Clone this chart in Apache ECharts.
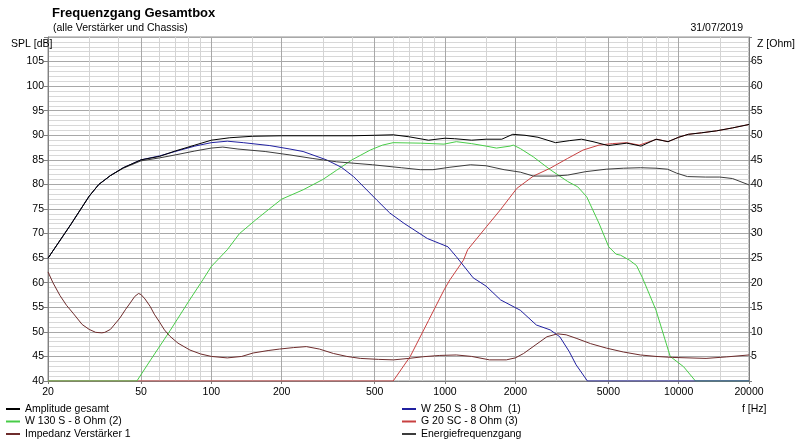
<!DOCTYPE html>
<html><head><meta charset="utf-8">
<script src="https://cdn.jsdelivr.net/npm/echarts@6/dist/echarts.min.js"></script>
<style>html,body{margin:0;padding:0;background:#fff}#c{width:800px;height:445px}</style>
</head><body><div id="c"></div>
<script>
const majorFreqs = [20,50,100,200,500,1000,2000,5000,10000,20000];
const minorFreqs = [30,40,60,70,80,90,150,300,400,600,700,800,900,1500,3000,4000,6000,7000,8000,9000,15000];

const ampF = [20,25,30,33,37,42,50,60,70,85,100,120,150,200,300,400,500,600,700,850,1000,1100,1300,1500,1750,1950,2200,2500,2970,3400,3840,4300,5000,6000,6900,8000,9000,10000,11000,12500,14500,17000,20000];
const ampV = [65.0,71.8,77.6,80.0,81.8,83.4,85.0,85.7,86.8,88.0,89.0,89.5,89.8,89.9,89.9,89.9,90.0,90.1,89.7,89.0,89.4,89.3,89.0,89.2,89.2,90.2,90.0,89.6,88.5,88.9,89.2,88.7,87.9,88.4,87.8,89.2,88.7,89.6,90.2,90.5,90.9,91.5,92.2];

const energyF = [20,25,30,33,37,42,50,60,70,85,100,112,130,170,217,270,344,490,650,784,888,1050,1286,1500,1790,2100,2390,2930,3350,4000,4900,5800,6860,8000,8960,9800,10900,13000,15000,17000,20000];
const energyV = [65.0,71.8,77.6,80.0,81.8,83.3,84.8,85.4,86.0,86.8,87.4,87.6,87.2,86.7,86.0,85.3,84.6,84.0,83.4,83.0,83.0,83.5,84.0,83.8,83.0,82.5,81.7,81.7,81.9,82.6,83.1,83.3,83.4,83.3,83.1,82.3,81.6,81.5,81.5,81.2,79.9];

const wooferF = [20,25,30,33,37,42,50,60,70,85,100,117,137,178,217,247,311,360,406,511,580,667,840,1030,1118,1320,1500,1730,2100,2460,2820,3100,3400,3640,4070,20000];
const wooferV = [65.0,71.8,77.6,80.0,81.8,83.4,85.0,85.8,86.7,87.8,88.5,88.8,88.5,87.9,87.2,86.7,85.0,83.5,81.6,76.8,74.2,72.1,69.0,67.3,65.3,61.0,59.3,56.5,54.4,51.4,50.4,49.0,46.0,43.3,40.0,40.0];

const midF = [20,48,55,66.5,80,92,100,117,132,155,178,200,247,300,344,400,479,540,600,784,990,1118,1300,1500,1660,1900,1960,2100,2390,2820,3350,3700,4040,4560,5020,5400,5640,6150,6600,7000,8000,9200,10500,11800,20000];
const midV = [40,40,44.3,50.2,56.2,60.6,63.3,66.7,70.0,72.8,75.1,77.0,78.9,81.0,82.9,85.0,87.0,88.0,88.5,88.4,88.2,88.7,88.3,87.8,87.4,87.8,88.0,87.3,85.6,83.0,80.6,79.5,77.5,72.1,67.3,65.8,65.6,64.6,63.5,61.0,54.4,45.0,42.9,40,40];

const tweetF = [20,600,710,850,990,1050,1200,1250,1505,1724,2030,2390,2820,3350,3900,4560,5200,5990,6780,8070,9000,10000,11000,12500,14500,17000,20000];
const tweetV = [40,40,45.0,52.3,58.5,60.6,64.6,66.7,71.4,74.8,79.2,81.7,83.3,85.3,87.0,88.0,88.3,88.5,88.0,89.2,88.7,89.6,90.2,90.5,90.9,91.5,92.2];

const impF = [20,21,22.5,24,25.6,28,30,32,34,35,37,40.6,43,45,47,48.8,50,52,54.7,57,60,63,66.5,72,81,90,100,117,135,151,175,196,225,255,290,333,380,434,520,602,700,810,950,1118,1300,1550,1830,2000,2170,2450,2730,3030,3300,3640,4200,4900,5800,6850,8000,9420,13100,16000,20000];
const impV = [22.2,20.0,17.4,15.4,13.8,11.5,10.5,9.9,9.8,9.9,10.5,12.8,14.6,15.9,17.2,17.8,17.6,16.7,15.2,13.6,12.0,10.4,9.1,7.7,6.3,5.5,5.0,4.7,5.0,5.7,6.2,6.5,6.8,7.0,6.5,5.6,5.0,4.6,4.4,4.3,4.6,4.95,5.2,5.3,5.0,4.3,4.3,4.7,5.6,7.4,9.0,9.6,9.4,8.7,7.6,6.7,5.9,5.3,5.0,4.8,4.6,4.9,5.3];

const leftTicks = [40,45,50,55,60,65,70,75,80,85,90,95,100,105];
const rightTicks = [5,10,15,20,25,30,35,40,45,50,55,60,65];

const FONT = 'Liberation Sans';
const pair = (f, v) => f.map((x, i) => [x, v[i]]);

const C = {
  amp: '#000000', mid: '#48cc48', imp: '#6e2c2c',
  woof: '#2020a0', tweet: '#c84040', energy: '#3c3c3c'
};

function ser(name, f, v, color, yIdx) {
  return {
    name: name, type: 'line', xAxisIndex: 0, yAxisIndex: yIdx || 0,
    data: pair(f, v), symbol: 'none', showSymbol: false, smooth: false,
    lineStyle: { width: 1, color: color }, itemStyle: { color: color }, silent: true
  };
}
const li = (name, color) => ({ name: name, icon: 'rect', itemStyle: { color: color, borderWidth: 0 } });

const chart = echarts.init(document.getElementById('c'), null, { renderer: 'canvas' });
const logBase = { type: 'log', logBase: 10, min: 20, max: 20000, gridIndex: 0 };
const plainT = { fontFamily: FONT, fontSize: 10.5, fontWeight: 'normal', color: '#000' };
const legendText = { fontFamily: FONT, fontSize: 10.5, color: '#000', lineHeight: 12 };
const legendBase = { orient: 'vertical', top: 403, itemWidth: 14, itemHeight: 2, itemGap: 0.5, padding: 0,
  textStyle: legendText, selectedMode: false, itemStyle: { borderWidth: 0 }, lineStyle: { width: 0, opacity: 0 } };
chart.setOption({
  animation: false,
  textStyle: { fontFamily: FONT },
  title: [
    { text: 'Frequenzgang Gesamtbox', left: 47, top: 2, textStyle: { fontFamily: FONT, fontSize: 13, fontWeight: 'bold', color: '#000' } },
    { text: '(alle Verstärker und Chassis)', left: 48, top: 18, textStyle: plainT },
    { text: '31/07/2019', right: 52, top: 18, textStyle: plainT },
    { text: 'SPL [dB]', left: 6, top: 34, textStyle: plainT },
    { text: 'Z [Ohm]', left: 752, top: 34, textStyle: plainT },
    { text: 'f [Hz]', left: 737, top: 399, textStyle: plainT }
  ],
  grid: { left: 48, right: 51, top: 37, bottom: 64, show: true, borderColor: '#909090', borderWidth: 1, backgroundColor: '#fff' },
  legend: [
    Object.assign({}, legendBase, { left: 6,
      data: [li('Amplitude gesamt', C.amp), li('W 130 S - 8 Ohm (2)', C.mid), li('Impedanz Verstärker 1', C.imp)] }),
    Object.assign({}, legendBase, { left: 402,
      data: [li('W 250 S - 8 Ohm  (1)', C.woof), li('G 20 SC - 8 Ohm (3)', C.tweet), li('Energiefrequenzgang', C.energy)] })
  ],
  xAxis: [
    Object.assign({}, logBase, {
      axisLine: { show: true, lineStyle: { color: '#808080' } },
      axisTick: { show: true, length: 3, customValues: majorFreqs, lineStyle: { color: '#808080' } },
      axisLabel: { show: true, customValues: majorFreqs, color: '#000', fontSize: 10.5, fontFamily: FONT, margin: 6,
        formatter: v => String(Math.round(v)) },
      splitLine: { show: true, lineStyle: { color: '#a8a8a8', width: 1 } }
    }),
    Object.assign({}, logBase, {
      axisLine: { show: false },
      axisTick: { show: false, customValues: minorFreqs },
      axisLabel: { show: false },
      splitLine: { show: true, lineStyle: { color: '#d4d4d4', width: 1 } }
    })
  ],
  yAxis: [
    { type: 'value', min: 40, max: 110, interval: 5, position: 'left',
      axisLine: { show: true, lineStyle: { color: '#808080' } },
      axisTick: { show: true, length: 4, inside: false, lineStyle: { color: '#808080' } },
      axisLabel: { color: '#000', fontSize: 10.5, fontFamily: FONT, margin: 4,
        formatter: v => leftTicks.indexOf(v) >= 0 ? String(v) : '' },
      splitLine: { show: true, lineStyle: { color: '#a8a8a8', width: 1 } },
      minorTick: { show: false, splitNumber: 5 },
      minorSplitLine: { show: true, lineStyle: { color: '#d8d8d8', width: 1 } }
    },
    { type: 'value', min: 0, max: 70, interval: 5, position: 'right',
      axisLine: { show: true, lineStyle: { color: '#808080' } },
      axisTick: { show: true, length: 3, lineStyle: { color: '#808080' } },
      axisLabel: { color: '#000', fontSize: 10.5, fontFamily: FONT, margin: 2,
        formatter: v => rightTicks.indexOf(v) >= 0 ? String(v) : '' },
      splitLine: { show: false }
    }
  ],
  series: [
    ser('G 20 SC - 8 Ohm (3)', tweetF, tweetV, C.tweet),
    ser('W 130 S - 8 Ohm (2)', midF, midV, C.mid),
    ser('W 250 S - 8 Ohm  (1)', wooferF, wooferV, C.woof),
    ser('Impedanz Verstärker 1', impF, impV, C.imp, 1),
    ser('Energiefrequenzgang', energyF, energyV, C.energy),
    ser('Amplitude gesamt', ampF, ampV, C.amp)
  ]
});
</script></body></html>
